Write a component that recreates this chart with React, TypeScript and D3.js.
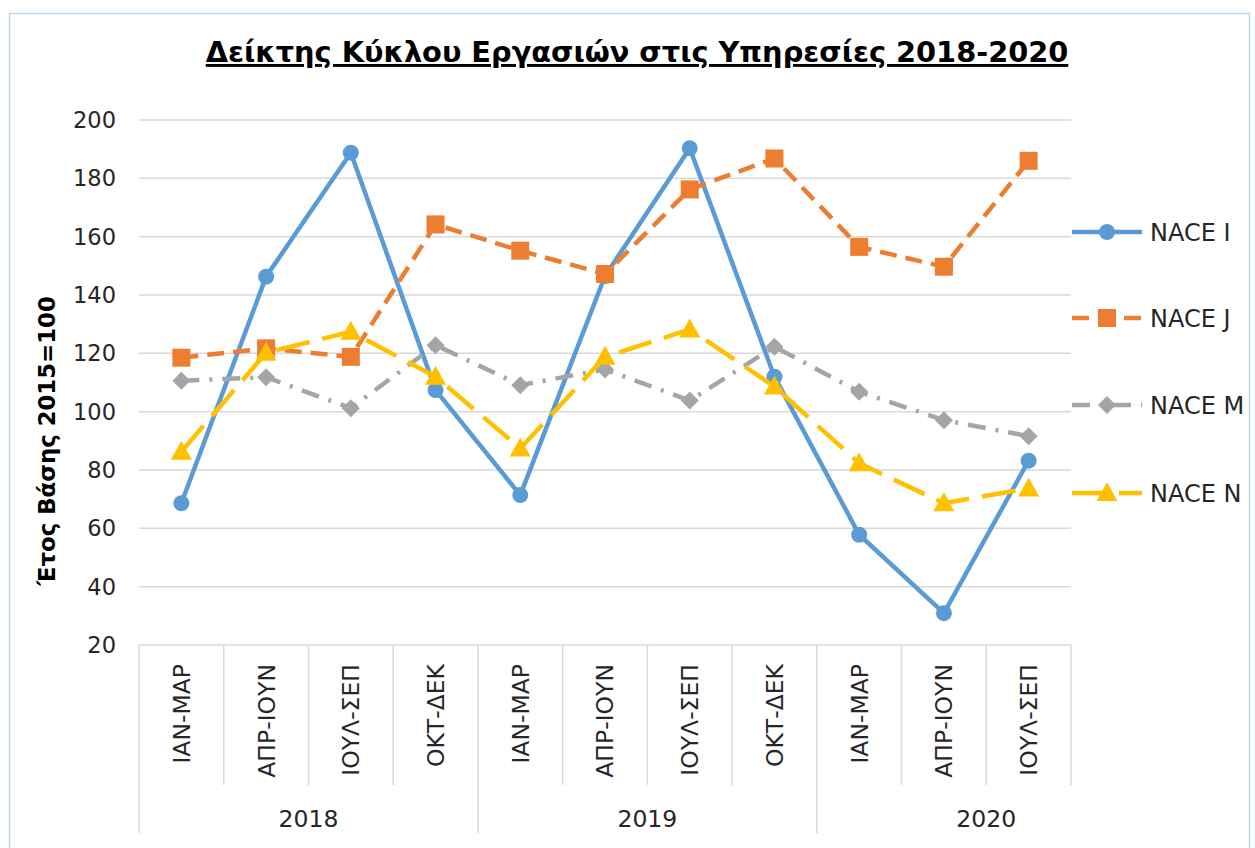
import React from 'react';
import * as d3 from 'd3';

const quarters = ['ΙΑΝ-ΜΑΡ', 'ΑΠΡ-ΙΟΥΝ', 'ΙΟΥΛ-ΣΕΠ', 'ΟΚΤ-ΔΕΚ', 'ΙΑΝ-ΜΑΡ', 'ΑΠΡ-ΙΟΥΝ', 'ΙΟΥΛ-ΣΕΠ', 'ΟΚΤ-ΔΕΚ', 'ΙΑΝ-ΜΑΡ', 'ΑΠΡ-ΙΟΥΝ', 'ΙΟΥΛ-ΣΕΠ'];
const years = ['2018', '2019', '2020'];
const yearStart = [0, 4, 8];

const naceI = [68.6, 146.3, 188.8, 107.4, 71.4, 146.5, 190.3, 112.0, 57.8, 30.9, 83.2];
const naceJ = [118.5, 121.7, 118.8, 164.2, 155.2, 147.2, 176.2, 186.8, 156.5, 149.7, 186.0];
const naceM = [110.6, 111.8, 101.2, 122.8, 109.1, 114.5, 103.8, 122.3, 106.8, 97.1, 91.6];
const naceN = [86.3, 120.2, 127.4, 112.0, 87.4, 118.8, 128.2, 108.6, 82.3, 68.6, 73.7];

const yTicks = [20, 40, 60, 80, 100, 120, 140, 160, 180, 200];

const series = [
  { name: 'NACE I', values: naceI, color: '#5B9BD5', dash: 'none', marker: 'circle' },
  { name: 'NACE J', values: naceJ, color: '#ED7D31', dash: '17 9', marker: 'square' },
  { name: 'NACE M', values: naceM, color: '#A5A5A5', dash: '18 10 3 10', marker: 'diamond' },
  { name: 'NACE N', values: naceN, color: '#FFC000', dash: '34 13', marker: 'triangle' },
];

const FONT = '"DejaVu Sans", Verdana, sans-serif';
const TXT = '#262626';

const Marker = ({ type, x, y, color }: { type: string; x: number; y: number; color: string }) => {
  if (type === 'circle') return <circle cx={x} cy={y} r={8} fill={color} />;
  if (type === 'square') return <rect x={x - 9} y={y - 9} width={18} height={18} fill={color} />;
  if (type === 'diamond')
    return <path d={`M${x},${y - 9}L${x + 9},${y}L${x},${y + 9}L${x - 9},${y}Z`} fill={color} />;
  return <path d={`M${x},${y - 11}L${x + 10.5},${y + 8}L${x - 10.5},${y + 8}Z`} fill={color} />;
};

export default function App() {
  const left = 139, right = 1071, top = 120, bottom = 645;

  const x = d3.scaleBand<number>()
    .domain(d3.range(quarters.length))
    .range([left, right]);
  const y = d3.scaleLinear().domain([20, 200]).range([bottom, top]);
  const cx = (i: number) => (x(i) || 0) + x.bandwidth() / 2;

  const line = d3.line<number>()
    .x((_, i) => cx(i))
    .y(d => y(d));

  const legendY = [232, 318, 405, 493];

  return (
    <svg width={1255} height={848} style={{ position: 'absolute', left: 0, top: 0 }} fontFamily={FONT}>
      <rect x={0} y={0} width={1255} height={848} fill="#fff" />
      <rect x={9.5} y={13.5} width={1240} height={860} fill="#fff" stroke="#BDD7EE" strokeWidth={1.5} />

      <text x={637} y={62} textAnchor="middle" fontSize={28.8} fontWeight="bold" fill="#000"
        style={{ textDecoration: 'underline' }}>
        Δείκτης Κύκλου Εργασιών στις Υπηρεσίες 2018-2020
      </text>

      {/* gridlines + y ticks */}
      {yTicks.map(t => (
        <g key={t}>
          {t > 20 && <line x1={left} x2={right} y1={y(t)} y2={y(t)} stroke="#D9D9D9" strokeWidth={1.5} />}
          <text x={116} y={y(t)} dy="0.36em" textAnchor="end" fontSize={22.5} fill={TXT}>{t}</text>
        </g>
      ))}

      <text transform={`translate(47,${441}) rotate(-90)`} textAnchor="middle" dy="0.36em"
        fontSize={22.8} fontWeight="bold" fill="#000">Έτος Βάσης 2015=100</text>

      {/* multi-level category axis */}
      <line x1={left} x2={right} y1={bottom} y2={bottom} stroke="#D9D9D9" strokeWidth={1.5} />
      {d3.range(quarters.length + 1).map(i => {
        const xx = i < quarters.length ? (x(i) || 0) : right;
        const isYear = yearStart.includes(i);
        return <line key={i} x1={xx} x2={xx} y1={bottom} y2={isYear ? 833 : 785} stroke="#D9D9D9" strokeWidth={1.5} />;
      })}
      {quarters.map((q, i) => (
        <text key={i} transform={`translate(${cx(i)},664) rotate(-90)`} textAnchor="end" dy="0.36em"
          fontSize={23.5} fill={TXT}>{q}</text>
      ))}
      {years.map((yr, k) => (
        <text key={yr} x={(x(yearStart[k]) || 0) + x.bandwidth() * 2} y={827} textAnchor="middle"
          fontSize={23.5} fill={TXT}>{yr}</text>
      ))}

      {/* series */}
      {series.map(s => (
        <g key={s.name}>
          <path d={line(s.values) || ''} fill="none" stroke={s.color} strokeWidth={4.5}
            strokeDasharray={s.dash} strokeLinejoin="round" />
          {s.values.map((v, i) => <Marker key={i} type={s.marker} x={cx(i)} y={y(v)} color={s.color} />)}
        </g>
      ))}

      {/* legend */}
      {series.map((s, k) => (
        <g key={s.name}>
          <line x1={1072} x2={1142} y1={legendY[k]} y2={legendY[k]} stroke={s.color} strokeWidth={4.5}
            strokeDasharray={s.dash} />
          <Marker type={s.marker} x={1107} y={legendY[k]} color={s.color} />
          <text x={1150} y={legendY[k]} dy="0.36em" fontSize={24} fill={TXT}>{s.name}</text>
        </g>
      ))}
    </svg>
  );
}
